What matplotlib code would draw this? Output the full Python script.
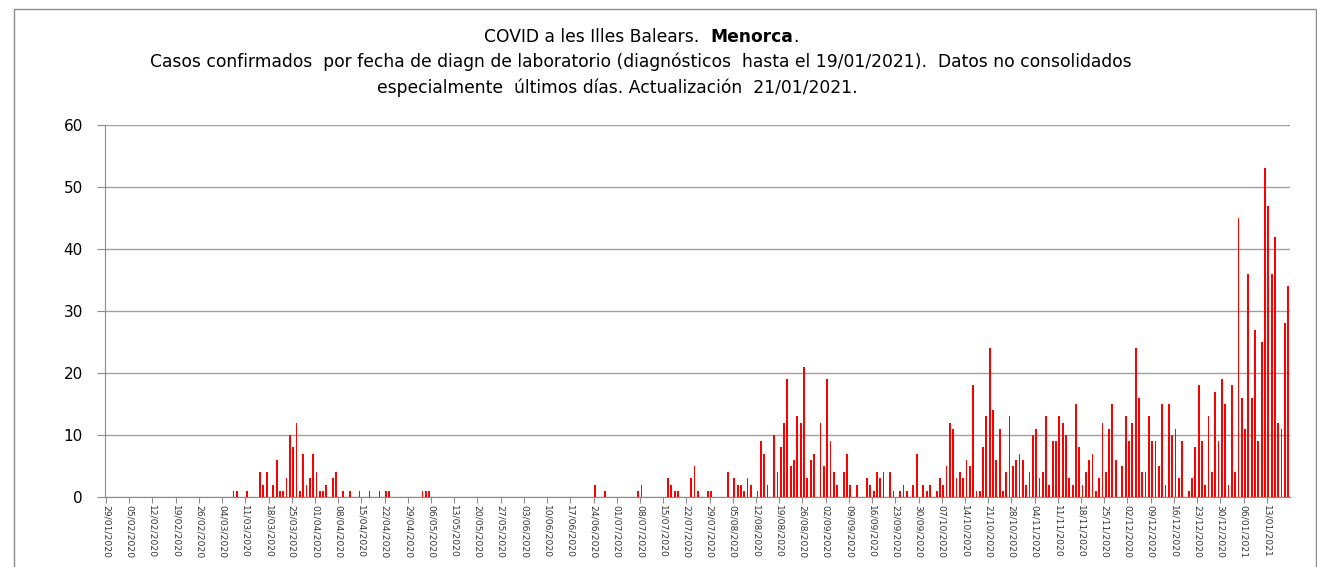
import numpy as np
import pandas as pd
import matplotlib
matplotlib.use("Agg")
import matplotlib.pyplot as plt
from matplotlib.patches import Rectangle

# ── data: daily confirmed cases, one row per week starting 29/01/2020 ──────
START_DATE = "2020-01-29"
weekly_cases = [
    [0, 0, 0, 0, 0, 0, 0],        # 29/01
    [0, 0, 0, 0, 0, 0, 0],        # 05/02
    [0, 0, 0, 0, 0, 0, 0],        # 12/02
    [0, 0, 0, 0, 0, 0, 0],        # 19/02
    [0, 0, 0, 0, 0, 0, 0],        # 26/02
    [0, 0, 0, 1, 1, 0, 0],        # 04/03
    [1, 0, 0, 0, 4, 2, 4],        # 11/03
    [0, 2, 6, 1, 1, 3, 10],       # 18/03
    [8, 12, 1, 7, 2, 3, 7],       # 25/03
    [4, 1, 1, 2, 0, 3, 4],        # 01/04
    [0, 1, 0, 1, 0, 0, 1],        # 08/04
    [0, 0, 1, 0, 0, 1, 0],        # 15/04
    [1, 1, 0, 0, 0, 0, 0],        # 22/04
    [0, 0, 0, 0, 1, 1, 1],        # 29/04
    [0, 0, 0, 0, 0, 0, 0],        # 06/05
    [0, 0, 0, 0, 0, 0, 0],        # 13/05
    [0, 0, 0, 0, 0, 0, 0],        # 20/05
    [0, 0, 0, 0, 0, 0, 0],        # 27/05
    [0, 0, 0, 0, 0, 0, 0],        # 03/06
    [0, 0, 0, 0, 0, 0, 0],        # 10/06
    [0, 0, 0, 0, 0, 0, 0],        # 17/06
    [2, 0, 0, 1, 0, 0, 0],        # 24/06
    [0, 0, 0, 0, 0, 0, 1],        # 01/07
    [2, 0, 0, 0, 0, 0, 0],        # 08/07
    [0, 3, 2, 1, 1, 0, 0],        # 15/07
    [0, 3, 5, 1, 0, 0, 1],        # 22/07
    [1, 0, 0, 0, 0, 4, 0],        # 29/07
    [3, 2, 2, 1, 3, 2, 0],        # 05/08
    [1, 9, 7, 2, 0, 10, 4],       # 12/08
    [8, 12, 19, 5, 6, 13, 12],    # 19/08
    [21, 3, 6, 7, 0, 12, 5],      # 26/08
    [19, 9, 4, 2, 0, 4, 7],       # 02/09
    [2, 0, 2, 0, 0, 3, 2],        # 09/09
    [1, 4, 3, 4, 0, 4, 1],        # 16/09
    [0, 1, 2, 1, 0, 2, 7],        # 23/09
    [0, 2, 1, 2, 0, 1, 3],        # 30/09
    [2, 5, 12, 11, 3, 4, 3],      # 07/10
    [6, 5, 18, 1, 1, 8, 13],      # 14/10
    [24, 14, 6, 11, 1, 4, 13],    # 21/10
    [5, 6, 7, 6, 2, 4, 10],       # 28/10
    [11, 3, 4, 13, 2, 9, 9],      # 04/11
    [13, 12, 10, 3, 2, 15, 8],    # 11/11
    [2, 4, 6, 7, 1, 3, 12],       # 18/11
    [4, 11, 15, 6, 0, 5, 13],     # 25/11
    [9, 12, 24, 16, 4, 4, 13],    # 02/12
    [9, 9, 5, 15, 2, 15, 10],     # 09/12
    [11, 3, 9, 0, 1, 3, 8],       # 16/12
    [18, 9, 2, 13, 4, 17, 9],     # 23/12
    [19, 15, 2, 18, 4, 45, 16],   # 30/12
    [11, 36, 16, 27, 9, 25, 53],  # 06/01
    [47, 36, 42, 12, 11, 28, 34], # 13/01
]
y_ticks = [0, 10, 20, 30, 40, 50, 60]

cases = np.array(weekly_cases).ravel()
days = np.arange(len(cases))
dates = pd.date_range(START_DATE, periods=len(cases), freq="D")
tick_pos = days[::7]
tick_labels = [d.strftime("%d/%m/%Y") for d in dates[::7]]

# ── figure ────────────────────────────────────────────────────────────────
W, H = 1317, 567
plt.rcParams["font.family"] = "DejaVu Sans"
fig = plt.figure(figsize=(W / 100, H / 100), dpi=100)

# chart-area border (bottom runs off the image)
fig.patches.append(Rectangle((14 / W, -0.05), (1316 - 14) / W, 1.05 - 9 / H,
                             transform=fig.transFigure, fill=False,
                             edgecolor="#8c8c8c", linewidth=1.0))

ax = fig.add_axes([105 / W, 1 - 497 / H, (1290 - 105) / W, (497 - 125) / H])

ax.bar(days + 0.45, cases, width=0.55, color="#ff0000", linewidth=0, zorder=3)

ax.set_xlim(-0.3, len(cases))
ax.set_ylim(0, 60)
ax.set_yticks(y_ticks)
ax.tick_params(axis="y", labelsize=11, length=6, color="#8c8c8c", pad=10)
ax.set_xticks(tick_pos)
ax.set_xticklabels(tick_labels, rotation=-90, fontsize=6.6, color="#333333")
ax.tick_params(axis="x", length=4, color="#8c8c8c", pad=2)
ax.grid(axis="y", color="#a0a0a0", linewidth=1.0, zorder=0)
for s in ["top", "right"]:
    ax.spines[s].set_visible(False)
ax.spines["left"].set_color("#8c8c8c")
ax.spines["bottom"].set_color("#8c8c8c")

# ── title ─────────────────────────────────────────────────────────────────
TFS = 12.3
y1 = 1 - 37 / H
t1 = fig.text(0, y1, "COVID a les Illes Balears.  ", fontsize=TFS, va="center", ha="left")
t2 = fig.text(0, y1, "Menorca", fontsize=TFS, fontweight="bold", va="center", ha="left")
t3 = fig.text(0, y1, ".", fontsize=TFS, va="center", ha="left")
fig.text(641 / W, 1 - 62 / H,
         "Casos confirmados  por fecha de diagn de laboratorio (diagnósticos  hasta el "
         "19/01/2021).  Datos no consolidados",
         fontsize=TFS, ha="center", va="center")
fig.text(617 / W, 1 - 88 / H,
         "especialmente  últimos días. Actualización  21/01/2021.",
         fontsize=TFS, ha="center", va="center")

# centre the mixed-weight first line on x=641
fig.canvas.draw()
r = fig.canvas.get_renderer()
w1 = t1.get_window_extent(r).width
w2 = t2.get_window_extent(r).width
w3 = t3.get_window_extent(r).width
x0 = 641 - (w1 + w2 + w3) / 2
t1.set_position((x0 / W, y1))
t2.set_position(((x0 + w1) / W, y1))
t3.set_position(((x0 + w1 + w2) / W, y1))

fig.savefig("out.png", dpi=100)
